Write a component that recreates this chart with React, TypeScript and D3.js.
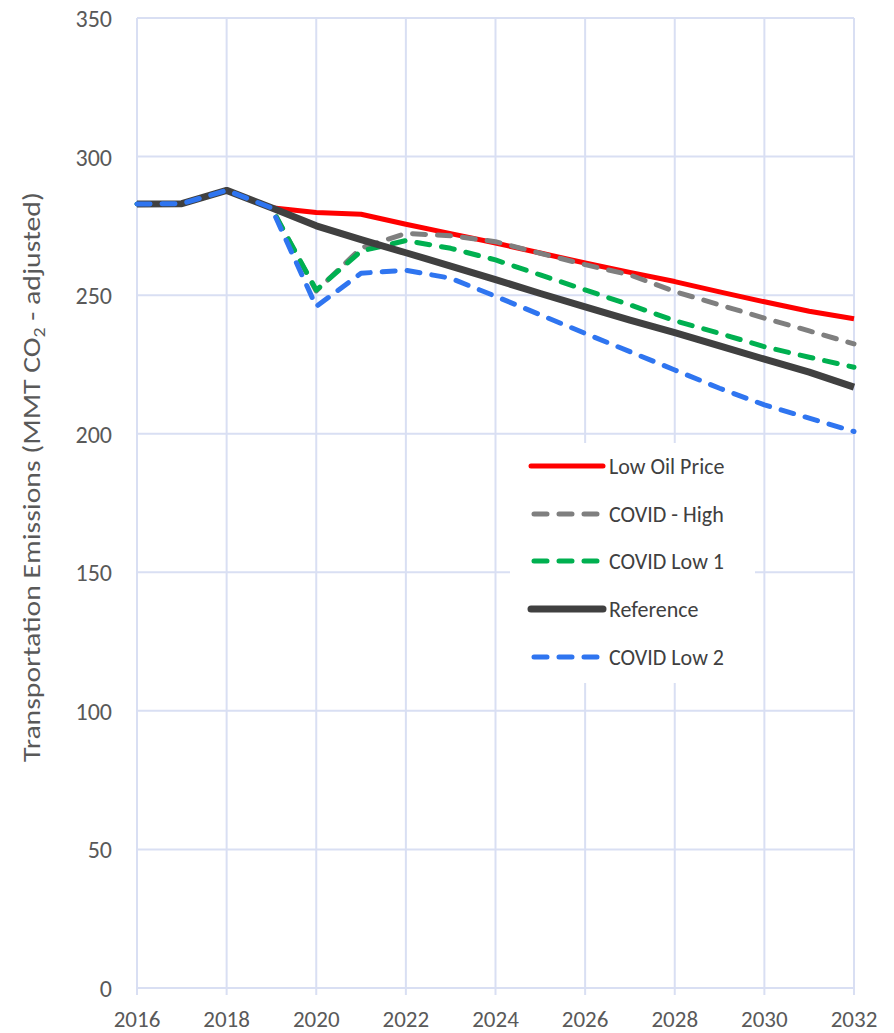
import React from "react";
import * as d3 from "d3";

const years = [2016, 2017, 2018, 2019, 2020, 2021, 2022, 2023, 2024, 2025, 2026, 2027, 2028, 2029, 2030, 2031, 2032];
const lowOilPrice = [282.9, 283.0, 287.8, 281.5, 279.8, 279.2, 275.6, 272.2, 268.8, 265.2, 261.6, 258.2, 254.9, 251.2, 247.6, 244.2, 241.5];
const covidHigh = [282.9, 283.0, 287.8, 281.5, 251.5, 267.0, 272.3, 271.4, 269.3, 265.1, 261.0, 257.3, 251.3, 246.5, 241.7, 237.1, 232.4];
const covidLow1 = [282.9, 283.0, 287.8, 281.5, 251.8, 265.9, 269.7, 266.9, 262.7, 257.3, 251.9, 246.5, 240.8, 236.2, 231.4, 227.6, 224.0];
const reference = [282.9, 283.0, 287.8, 281.5, 275.0, 270.0, 265.3, 260.5, 255.6, 250.6, 245.8, 241.0, 236.5, 231.7, 226.9, 222.2, 216.8];
const covidLow2 = [282.9, 283.0, 287.8, 281.5, 245.9, 257.9, 259.0, 256.1, 249.6, 242.9, 236.2, 229.6, 223.0, 216.4, 210.4, 205.6, 200.8];

const seriesNames = ["Low Oil Price", "COVID - High", "COVID Low 1", "Reference", "COVID Low 2"];
const seriesValues = [lowOilPrice, covidHigh, covidLow1, reference, covidLow2];
const seriesColors = ["#FF0000", "#7F7F7F", "#00B050", "#404040", "#2F75F0"];
const seriesWidths = [5, 5, 5, 7, 5];
const seriesDashed = [false, true, true, false, true];

const yTicks = [0, 50, 100, 150, 200, 250, 300, 350];
const xTicks = [2016, 2018, 2020, 2022, 2024, 2026, 2028, 2030, 2032];

const FONT = "Carlito, Lato, 'Open Sans', sans-serif";
const GRID = "#D9DFF3";

export default function App() {
  const W = 894, H = 1033;
  const left = 137, right = 854, top = 18, bottom = 988;
  const x = d3.scaleLinear().domain([2016, 2032]).range([left, right]);
  const y = d3.scaleLinear().domain([0, 350]).range([bottom, top]);
  const line = d3.line<number>().x((_, i) => x(years[i])).y((v) => y(v));

  const legX = 510, legY = 443, legW = 245, legH = 240;
  const rowY = [466, 514, 561, 609, 657];

  return (
    <svg width={W} height={H} style={{ position: "absolute", left: 0, top: 0, background: "#fff" }}>
      {/* grid */}
      {yTicks.map((t) => (
        <line key={"gy" + t} x1={left} x2={right} y1={y(t)} y2={y(t)} stroke={GRID} strokeWidth={2} />
      ))}
      {xTicks.map((t) => (
        <line key={"gx" + t} x1={x(t)} x2={x(t)} y1={top} y2={bottom + 7} stroke={GRID} strokeWidth={2} />
      ))}
      {/* y labels */}
      {yTicks.map((t) => (
        <text key={"ly" + t} x={112} y={y(t) + 9} textAnchor="end" fontFamily={FONT} fontSize={24} fill="#595959">
          {t}
        </text>
      ))}
      {xTicks.map((t) => (
        <text key={"lx" + t} x={x(t)} y={1027} textAnchor="middle" fontFamily={FONT} fontSize={23} fill="#595959">
          {t}
        </text>
      ))}
      <text
        transform="translate(40,477) rotate(-90)"
        textAnchor="middle"
        fontFamily={FONT}
        fontSize={24}
        fill="#595959"
        textLength={570}
        lengthAdjust="spacingAndGlyphs"
      >
        Transportation Emissions (MMT CO<tspan fontSize={16} dy={5}>2</tspan><tspan dy={-5}> - adjusted)</tspan>
      </text>
      {/* series */}
      {seriesValues.map((vals, i) => (
        <path
          key={"s" + i}
          d={line(vals) || ""}
          fill="none"
          stroke={seriesColors[i]}
          strokeWidth={seriesWidths[i]}
          strokeDasharray={seriesDashed[i] ? "13,12" : undefined}
          strokeLinecap={seriesDashed[i] ? "round" : "butt"}
          strokeLinejoin="round"
        />
      ))}
      {/* legend */}
      <rect x={legX} y={legY} width={legW} height={legH} fill="#fff" />
      {seriesNames.map((n, i) => (
        <g key={"lg" + i}>
          <line
            x1={seriesDashed[i] ? 534 : 531}
            x2={seriesDashed[i] ? 600 : 603}
            y1={rowY[i]}
            y2={rowY[i]}
            stroke={seriesColors[i]}
            strokeWidth={seriesWidths[i]}
            strokeDasharray={seriesDashed[i] ? "13,12" : undefined}
            strokeLinecap="round"
          />
          <text x={609} y={rowY[i] + 8} fontFamily={FONT} fontSize={22} fill="#404040">
            {n}
          </text>
        </g>
      ))}
    </svg>
  );
}
